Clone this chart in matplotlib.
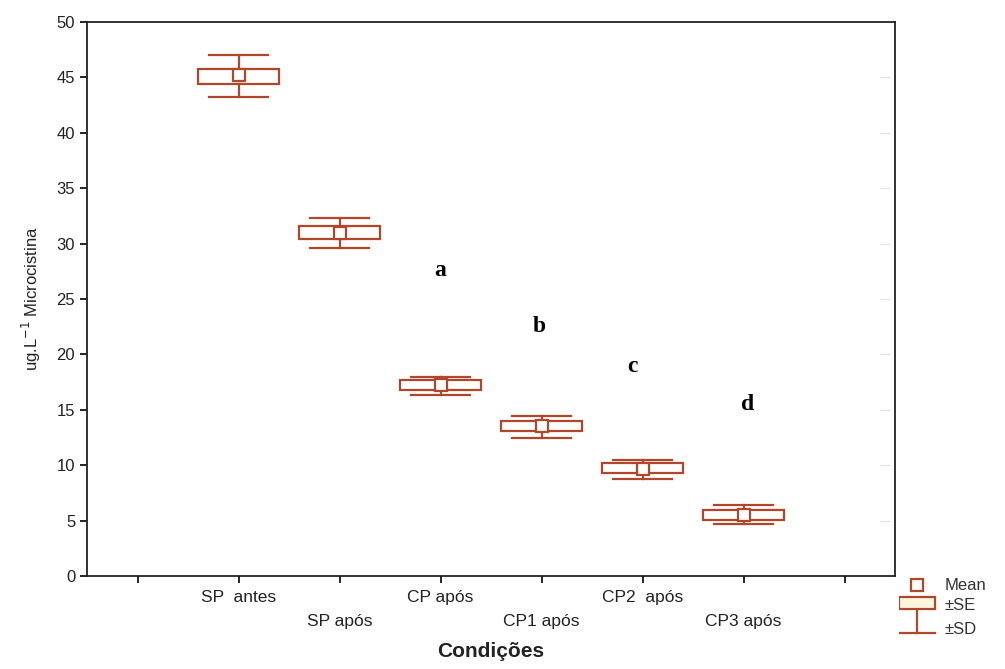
import numpy as np
import matplotlib.pyplot as plt
from matplotlib.patches import Rectangle

plt.rcParams['font.family'] = ['Liberation Sans', 'DejaVu Sans']

# Data
conditions = ['SP  antes', 'SP após', 'CP após', 'CP1 após', 'CP2  após', 'CP3 após']
means = [45.2, 31.0, 17.2, 13.5, 9.7, 5.5]
se_low = [44.4, 30.4, 16.8, 13.1, 9.3, 5.1]
se_high = [45.8, 31.6, 17.7, 14.0, 10.2, 6.0]
sd_low = [43.2, 29.6, 16.3, 12.5, 8.8, 4.7]
sd_high = [47.0, 32.3, 18.0, 14.4, 10.5, 6.4]
letters = ['a', 'b', 'c', 'd']
letter_x = [3.0, 3.98, 4.9, 6.04]
letter_y = [27.6, 22.5, 18.9, 15.5]

col = '#b0462a'
fig = plt.figure(figsize=(10.05, 6.69), dpi=100)
ax = fig.add_axes([0.0866, 0.139, 0.804, 0.828])

x = np.arange(1, len(conditions) + 1)
box_w = 0.8
cap_w = 0.58
for xi, m, sl, sh, dl, dh in zip(x, means, se_low, se_high, sd_low, sd_high):
    ax.add_patch(Rectangle((xi - box_w / 2, sl), box_w, sh - sl, fill=False,
                           edgecolor=col, lw=1.6, zorder=2))
    ax.plot([xi, xi], [sh, dh], color=col, lw=1.6)
    ax.plot([xi, xi], [dl, sl], color=col, lw=1.6)
    ax.plot([xi - cap_w / 2, xi + cap_w / 2], [dh, dh], color=col, lw=1.6)
    ax.plot([xi - cap_w / 2, xi + cap_w / 2], [dl, dl], color=col, lw=1.6)
    ax.plot(xi, m, 's', ms=9, mfc='white', mec=col, mew=1.6, zorder=3)

for t, lx, ly in zip(letters, letter_x, letter_y):
    ax.text(lx, ly, t, family='Liberation Serif', fontweight='bold', fontsize=17,
            ha='center', va='center')

ax.set_xlim(-0.5, 7.5)
ax.set_ylim(0, 50)
ax.set_yticks(np.arange(0, 51, 5))
ax.set_xticks(np.arange(0, 8))
ax.set_xticklabels([''] * 8)
for i, lab in enumerate(conditions):
    ax.text(x[i], -1.3 if i % 2 == 0 else -3.4, lab, ha='center', va='top',
            fontsize=12.5, color='#222222')
ax.tick_params(axis='both', direction='out', length=5, width=1.2, labelsize=12,
               labelcolor='#222222')
for s in ax.spines.values():
    s.set_linewidth(1.3)
    s.set_color('#222222')

# faint inside ticks on the right side
for yv in np.arange(5, 50, 5):
    ax.plot([7.35, 7.45], [yv, yv], color='#e6e6e6', lw=1)

ax.set_xlabel('Condições', fontsize=15, fontweight='bold', labelpad=39, color='#222222')
ax.set_ylabel('ug.L$^{-1}$ Microcistina', fontsize=12, labelpad=10, color='#222222')

# legend outside the axes
lg = fig.add_axes([0.895, 0.03, 0.105, 0.11])
lg.set_xlim(0, 105)
lg.set_ylim(74, 0)
lg.axis('off')
lg.plot(17, 10, 's', ms=8, mfc='white', mec=col, mew=1.6)
lg.text(45, 10, 'Mean', va='center', fontsize=12, color='#333333')
lg.add_patch(Rectangle((0, 22), 35, 12, facecolor='#fdf6de', edgecolor=col, lw=1.6))
lg.text(45, 30, '±SE', va='center', fontsize=12, color='#333333')
lg.plot([17, 17], [36, 58], color=col, lw=1.6)
lg.plot([0, 35], [58, 58], color=col, lw=1.6)
lg.text(45, 54, '±SD', va='center', fontsize=12, color='#333333')

fig.savefig('out.png', dpi=100)
